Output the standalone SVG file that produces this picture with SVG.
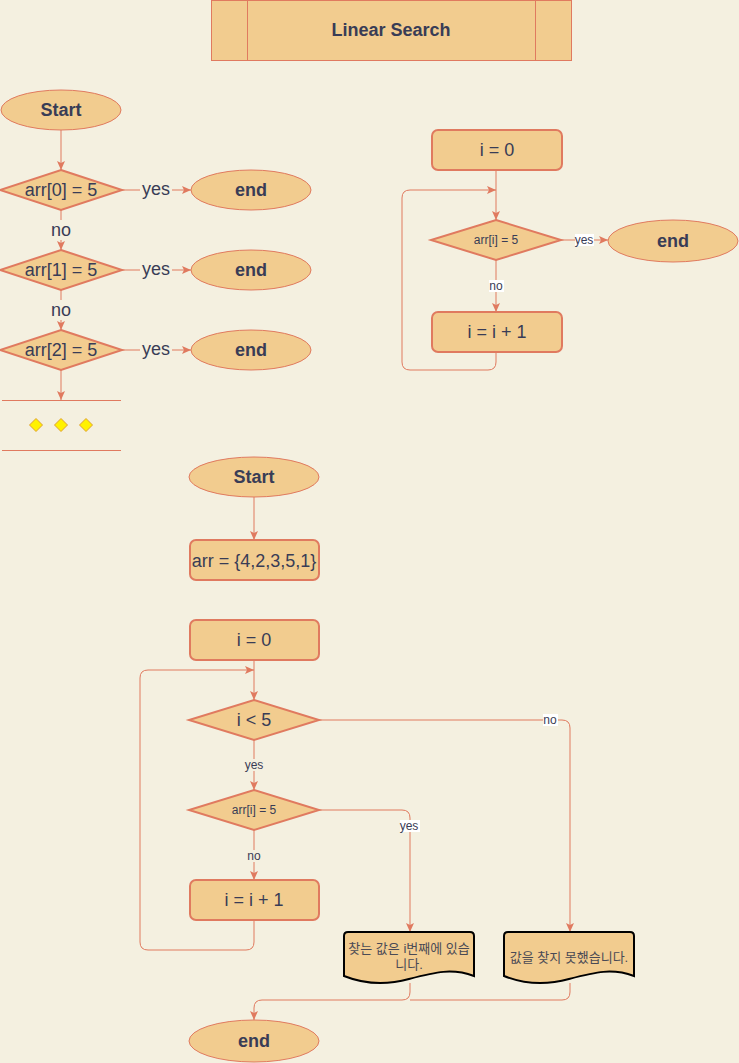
<svg xmlns="http://www.w3.org/2000/svg" width="739" height="1063" viewBox="0 0 739 1063">
  <style>
    .bg { fill: #F4F0E0; }
    .node { fill: #F2CC8F; stroke: #E07A5F; stroke-width: 1; }
    .thick { stroke-width: 2; }
    .doc { fill: #F2CC8F; stroke: #000000; stroke-width: 2; }
    .edge { fill: none; stroke: #E07A5F; stroke-width: 1; }
    .t { font-family: "Liberation Sans", Arial, sans-serif; fill: #393C56; text-anchor: middle; dominant-baseline: central; }
    .b { font-weight: bold; font-size: 18px; }
    .m { font-size: 18px; }
    .s { font-size: 12px; }
    .k { font-family: "Liberation Sans", "Noto Sans CJK KR", sans-serif; font-size: 13px; fill: #4A4A55; text-anchor: middle; dominant-baseline: central; }
    .lblw { fill: #FFFFFF; }
    .lblb { fill: #F4F0E0; }
    .dot { fill: #FFF200; stroke: #E0A030; stroke-width: 1; }
  </style>
  <defs>
    <marker id="arrow" markerUnits="userSpaceOnUse" markerWidth="10" markerHeight="10" refX="9" refY="4" orient="auto">
      <path d="M0,0 L9,4 L0,8 L2,4 Z" fill="#E07A5F"/>
    </marker>
  </defs>

  <rect class="bg" x="0" y="0" width="739" height="1063"/>

  <!-- title bar -->
  <g id="title">
    <rect class="node" x="211.5" y="0.5" width="360" height="60"/>
    <line class="edge" x1="247.5" y1="0.5" x2="247.5" y2="60.5"/>
    <line class="edge" x1="535.5" y1="0.5" x2="535.5" y2="60.5"/>
    <text class="t b" x="391" y="30">Linear Search</text>
  </g>

  <!-- connectors -->
  <g id="edges">
    <!-- unrolled chain -->
    <line class="edge" x1="61" y1="130" x2="61" y2="170" marker-end="url(#arrow)"/>
    <line class="edge" x1="61" y1="210" x2="61" y2="250" marker-end="url(#arrow)"/>
    <line class="edge" x1="61" y1="290" x2="61" y2="330" marker-end="url(#arrow)"/>
    <line class="edge" x1="61" y1="370" x2="61" y2="400" marker-end="url(#arrow)"/>
    <line class="edge" x1="122" y1="190" x2="191" y2="190" marker-end="url(#arrow)"/>
    <line class="edge" x1="122" y1="270" x2="191" y2="270" marker-end="url(#arrow)"/>
    <line class="edge" x1="122" y1="350" x2="191" y2="350" marker-end="url(#arrow)"/>

    <!-- loop (top right) -->
    <line class="edge" x1="496" y1="170" x2="496" y2="220" marker-end="url(#arrow)"/>
    <line class="edge" x1="561" y1="240" x2="608" y2="240" marker-end="url(#arrow)"/>
    <line class="edge" x1="496" y1="260" x2="496" y2="312" marker-end="url(#arrow)"/>
    <path class="edge" d="M496,352 V362 Q496,370 488,370 H410 Q402,370 402,362 V198 Q402,190 410,190 H496" marker-end="url(#arrow)"/>

    <!-- full flow -->
    <line class="edge" x1="254" y1="497" x2="254" y2="540" marker-end="url(#arrow)"/>
    <line class="edge" x1="254" y1="660" x2="254" y2="700" marker-end="url(#arrow)"/>
    <line class="edge" x1="254" y1="740" x2="254" y2="790" marker-end="url(#arrow)"/>
    <line class="edge" x1="254" y1="830" x2="254" y2="880" marker-end="url(#arrow)"/>
    <path class="edge" d="M254,920 V942 Q254,950 246,950 H148 Q140,950 140,942 V678 Q140,670 148,670 H254" marker-end="url(#arrow)"/>
    <path class="edge" d="M319,720 H562 Q570,720 570,728 V932" marker-end="url(#arrow)"/>
    <path class="edge" d="M319,810 H402 Q410,810 410,818 V932" marker-end="url(#arrow)"/>
    <path class="edge" d="M410,983 V992 Q410,1000 402,1000 H262 Q254,1000 254,1008 V1020" marker-end="url(#arrow)"/>
    <path class="edge" d="M570,983 V992 Q570,1000 562,1000 H410"/>

    <!-- edge labels -->
    <rect class="lblb" x="140" y="180" width="32" height="20"/>
    <text class="t m" x="156" y="189">yes</text>
    <rect class="lblb" x="140" y="260" width="32" height="20"/>
    <text class="t m" x="156" y="269">yes</text>
    <rect class="lblb" x="140" y="340" width="32" height="20"/>
    <text class="t m" x="156" y="349">yes</text>
    <rect class="lblb" x="49" y="220" width="24" height="20"/>
    <text class="t m" x="61" y="230">no</text>
    <rect class="lblb" x="49" y="300" width="24" height="20"/>
    <text class="t m" x="61" y="310">no</text>

    <rect class="lblw" x="575" y="234" width="19" height="12"/>
    <text class="t s" x="584" y="240">yes</text>
    <rect class="lblw" x="489" y="280" width="15" height="12"/>
    <text class="t s" x="496" y="286">no</text>

    <rect class="lblb" x="244" y="759" width="21" height="12"/>
    <text class="t s" x="254" y="765">yes</text>
    <rect class="lblb" x="246" y="850" width="16" height="12"/>
    <text class="t s" x="254" y="856">no</text>
    <rect class="lblw" x="543" y="714" width="15" height="12"/>
    <text class="t s" x="550" y="720">no</text>
    <rect class="lblw" x="400" y="820" width="20" height="12"/>
    <text class="t s" x="409" y="826">yes</text>
  </g>

  <!-- unrolled comparison chain -->
  <g id="start1">
    <ellipse class="node" cx="61" cy="110" rx="60" ry="20"/>
    <text class="t b" x="61" y="110">Start</text>
  </g>
  <g id="cmp0">
    <polygon class="node thick" points="61,170 122,190 61,210 0,190"/>
    <text class="t m" x="61" y="190">arr[0] = 5</text>
  </g>
  <g id="cmp1">
    <polygon class="node thick" points="61,250 122,270 61,290 0,270"/>
    <text class="t m" x="61" y="270">arr[1] = 5</text>
  </g>
  <g id="cmp2">
    <polygon class="node thick" points="61,330 122,350 61,370 0,350"/>
    <text class="t m" x="61" y="350">arr[2] = 5</text>
  </g>
  <g id="end0">
    <ellipse class="node" cx="251" cy="190" rx="60" ry="20"/>
    <text class="t b" x="251" y="190">end</text>
  </g>
  <g id="end1">
    <ellipse class="node" cx="251" cy="270" rx="60" ry="20"/>
    <text class="t b" x="251" y="270">end</text>
  </g>
  <g id="end2">
    <ellipse class="node" cx="251" cy="350" rx="60" ry="20"/>
    <text class="t b" x="251" y="350">end</text>
  </g>
  <g id="ellipsis">
    <line class="edge" x1="2" y1="400.5" x2="121" y2="400.5"/>
    <line class="edge" x1="2" y1="450.5" x2="121" y2="450.5"/>
    <polygon class="dot" points="36,418.5 42.5,425 36,431.5 29.5,425"/>
    <polygon class="dot" points="61,418.5 67.5,425 61,431.5 54.5,425"/>
    <polygon class="dot" points="86,418.5 92.5,425 86,431.5 79.5,425"/>
  </g>

  <!-- loop form -->
  <g id="init1">
    <rect class="node thick" x="432" y="130" width="130" height="40" rx="6"/>
    <text class="t m" x="497" y="150">i = 0</text>
  </g>
  <g id="check1">
    <polygon class="node thick" points="496,220 561,240 496,260 431,240"/>
    <text class="t s" x="496" y="240">arr[i] = 5</text>
  </g>
  <g id="end3">
    <ellipse class="node" cx="673" cy="241" rx="65" ry="21"/>
    <text class="t b" x="673" y="241">end</text>
  </g>
  <g id="inc1">
    <rect class="node thick" x="432" y="312" width="130" height="40" rx="6"/>
    <text class="t m" x="497" y="332">i = i + 1</text>
  </g>

  <!-- full program flow -->
  <g id="start2">
    <ellipse class="node" cx="254" cy="477" rx="65" ry="20"/>
    <text class="t b" x="254" y="477">Start</text>
  </g>
  <g id="array">
    <rect class="node thick" x="190" y="540" width="129" height="40" rx="6"/>
    <text class="t m" x="254" y="561">arr = {4,2,3,5,1}</text>
  </g>
  <g id="init2">
    <rect class="node thick" x="190" y="620" width="129" height="40" rx="6"/>
    <text class="t m" x="254" y="640">i = 0</text>
  </g>
  <g id="bound">
    <polygon class="node thick" points="254,700 319,720 254,740 189,720"/>
    <text class="t m" x="254" y="720">i &lt; 5</text>
  </g>
  <g id="check2">
    <polygon class="node thick" points="254,790 319,810 254,830 189,810"/>
    <text class="t s" x="254" y="810">arr[i] = 5</text>
  </g>
  <g id="inc2">
    <rect class="node thick" x="190" y="880" width="129" height="40" rx="6"/>
    <text class="t m" x="254" y="900">i = i + 1</text>
  </g>
  <g id="found">
    <path class="doc" d="M344,976 V936 Q344,932 348,932 H470 Q474,932 474,936 V976 C452,968 436,972 409,979 C384,986 364,984 344,976 Z"/>
    <text class="k" x="409" y="948">찾는 값은 i번째에 있습</text>
    <text class="k" x="409" y="964">니다.</text>
  </g>
  <g id="notfound">
    <path class="doc" d="M504,976 V936 Q504,932 508,932 H630 Q634,932 634,936 V976 C612,968 596,972 569,979 C544,986 524,984 504,976 Z"/>
    <text class="k" x="569" y="957">값을 찾지 못했습니다.</text>
  </g>
  <g id="end4">
    <ellipse class="node" cx="254" cy="1041" rx="65" ry="21"/>
    <text class="t b" x="254" y="1041">end</text>
  </g>
</svg>
